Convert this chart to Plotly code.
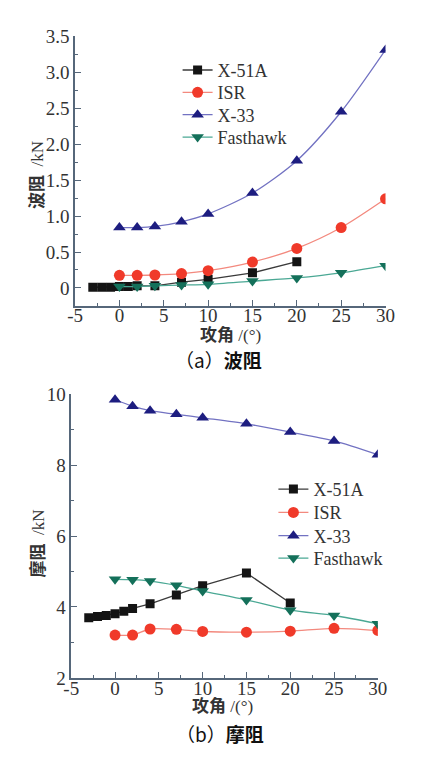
import plotly.graph_objects as go

# Angle of attack (deg) sampled for each vehicle
aoa_x51a = [-3, -2, -1, 0, 1, 2, 4, 7, 10, 15, 20]
aoa_full = [0, 2, 4, 7, 10, 15, 20, 25, 30]

# (a) wave drag, kN
wave_x51a = [0.01, 0.01, 0.01, 0.02, 0.02, 0.03, 0.03, 0.08, 0.12, 0.21, 0.365]
wave_isr = [0.175, 0.175, 0.18, 0.20, 0.24, 0.36, 0.55, 0.84, 1.24]
wave_x33 = [0.84, 0.84, 0.855, 0.92, 1.03, 1.32, 1.77, 2.45, 3.31]
wave_fasthawk = [0.02, 0.02, 0.03, 0.04, 0.05, 0.095, 0.14, 0.21, 0.31]

# (b) friction drag, kN
fric_x51a = [3.70, 3.73, 3.76, 3.81, 3.88, 3.96, 4.09, 4.34, 4.60, 4.96, 4.11]
fric_isr = [3.21, 3.21, 3.38, 3.37, 3.31, 3.29, 3.32, 3.40, 3.34]
fric_x33 = [9.84, 9.66, 9.53, 9.43, 9.33, 9.16, 8.93, 8.68, 8.29]
fric_fasthawk = [4.78, 4.77, 4.73, 4.61, 4.45, 4.20, 3.91, 3.76, 3.53]

names = ["X-51A", "ISR", "X-33", "Fasthawk"]
xtick_vals = [-5, 0, 5, 10, 15, 20, 25, 30]
xtick_text = ["-5", "0", "5", "10", "15", "20", "25", "30"]
wave_ticks = [0, 0.5, 1.0, 1.5, 2.0, 2.5, 3.0, 3.5]
wave_ticktext = ["0", "0.5", "1.0", "1.5", "2.0", "2.5", "3.0", "3.5"]
fric_ticks = [2, 4, 6, 8, 10]

styles = {
    "X-51A": dict(mc="#141414", lc="#3a3a3a", sym="square", size=9, shape="linear"),
    "ISR": dict(mc="#f03a2a", lc="#f3897e", sym="circle", size=11, shape="spline"),
    "X-33": dict(mc="#1d1d80", lc="#7272c2", sym="triangle-up", size=11, shape="spline"),
    "Fasthawk": dict(mc="#14705a", lc="#4aa894", sym="triangle-down", size=11, shape="spline"),
}

SERIF = "Liberation Serif"
CJK = "Liberation Serif, Noto Sans CJK SC"
AXIS_COLOR = "#56677a"
TEXT_COLOR = "#333333"

W, H = 430, 758


def px_x(p):
    return p / W


def px_y(p):
    return 1 - p / H


fig = go.Figure()

top_series = [(aoa_x51a, wave_x51a), (aoa_full, wave_isr), (aoa_full, wave_x33), (aoa_full, wave_fasthawk)]
bot_series = [(aoa_x51a, fric_x51a), (aoa_full, fric_isr), (aoa_full, fric_x33), (aoa_full, fric_fasthawk)]

# one legend box per entry so each row sits at its own height
legend_rows_top = [62, 85, 108, 131]
legend_rows_bot = [493, 517, 541, 564]
legend_layout = {}
legend_idx = 0


def add_series(series, xa, ya, rows, lx):
    global legend_idx
    for name, (xs, ys), row in zip(names, series, rows):
        legend_idx += 1
        key = "legend" if legend_idx == 1 else f"legend{legend_idx}"
        s = styles[name]
        fig.add_trace(go.Scatter(
            x=xs, y=ys, name=name, mode="lines+markers", xaxis=xa, yaxis=ya,
            legend=key,
            line=dict(color=s["lc"], width=1.3, shape=s["shape"], smoothing=0.8),
            marker=dict(symbol=s["sym"], size=s["size"], color=s["mc"], line=dict(width=0)),
        ))
        legend_layout[key] = dict(
            x=px_x(lx), y=px_y(row), xanchor="left", yanchor="middle",
            bgcolor="rgba(0,0,0,0)", itemwidth=30,
            font=dict(family=SERIF, size=18, color=TEXT_COLOR),
        )


add_series(top_series, "x", "y", legend_rows_top, 177)
add_series(bot_series, "x2", "y2", legend_rows_bot, 277)

common_axis = dict(
    showline=True, linecolor=AXIS_COLOR, linewidth=1.5, mirror=False,
    ticks="inside", ticklen=6, tickwidth=1, tickcolor=AXIS_COLOR,
    showgrid=False, zeroline=False,
    tickfont=dict(family=SERIF, size=19, color=TEXT_COLOR),
)
minor = dict(ticks="inside", ticklen=3, tickcolor=AXIS_COLOR, showgrid=False)

fig.update_layout(
    width=W, height=H,
    margin=dict(l=0, r=0, t=0, b=0),
    paper_bgcolor="white", plot_bgcolor="white",
    font=dict(family=SERIF, color=TEXT_COLOR),
    showlegend=True,
    xaxis=dict(common_axis, domain=[px_x(70), px_x(394)], range=[-5, 30],
               tickvals=xtick_vals, ticktext=xtick_text, anchor="y",
               ticklabelstandoff=-8,
               minor=dict(minor, dtick=2.5)),
    yaxis=dict(common_axis, domain=[px_y(304), px_y(27)], range=[-0.245, 3.5],
               tickvals=wave_ticks, ticktext=wave_ticktext, anchor="x",
               minor=dict(minor, tickvals=[0.25, 0.75, 1.25, 1.75, 2.25, 2.75, 3.25])),
    xaxis2=dict(common_axis, domain=[px_x(66), px_x(386)], range=[-5, 30],
                tickvals=xtick_vals, ticktext=xtick_text, anchor="y2",
                ticklabelstandoff=-8,
                minor=dict(minor, dtick=2.5)),
    yaxis2=dict(common_axis, domain=[px_y(687), px_y(395)], range=[2, 10],
                tickvals=fric_ticks, anchor="x2",
                minor=dict(minor, tickvals=[3, 5, 7, 9])),
    **legend_layout,
)

annotations = [
    # axis titles, top panel
    dict(text="<b>攻角</b> /(°)", x=px_x(232), y=px_y(334), showarrow=False,
         font=dict(family=CJK, size=17, color=TEXT_COLOR)),
    dict(text="<b>波阻</b>  /kN", x=px_x(31), y=px_y(170), showarrow=False, textangle=-90,
         font=dict(family=CJK, size=17, color=TEXT_COLOR)),
    dict(text="（a）<b>波阻</b>", x=px_x(220), y=px_y(359), showarrow=False,
         font=dict(family="Noto Sans CJK SC", size=19, color="#111111")),
    # axis titles, bottom panel
    dict(text="<b>攻角</b> /(°)", x=px_x(224), y=px_y(716), showarrow=False,
         font=dict(family=CJK, size=17, color=TEXT_COLOR)),
    dict(text="<b>摩阻</b>  /kN", x=px_x(31), y=px_y(549), showarrow=False, textangle=-90,
         font=dict(family=CJK, size=17, color=TEXT_COLOR)),
    dict(text="（b）<b>摩阻</b>", x=px_x(221), y=px_y(744), showarrow=False,
         font=dict(family="Noto Sans CJK SC", size=19, color="#111111")),
]
for a in annotations:
    a.update(xref="paper", yref="paper", xanchor="center", yanchor="middle")
fig.update_layout(annotations=annotations)

fig.write_html("out.html")
